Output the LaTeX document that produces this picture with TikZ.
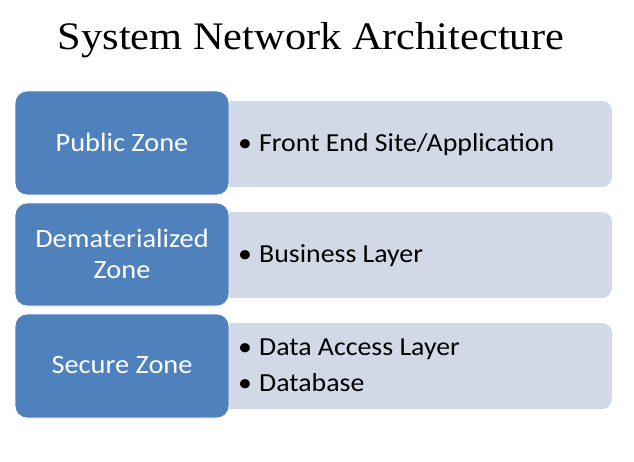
\documentclass[tikz,border=0pt]{standalone}
\usepackage{fontspec}
\setmainfont[FakeStretch=1.07]{Carlito}
\newfontfamily\titlefont[FakeStretch=1.087]{Liberation Serif}
\definecolor{zoneblue}{HTML}{4F81BD}
\definecolor{itemgray}{HTML}{D1D9E7}
\newcommand{\bul}{\makebox[21pt][l]{\textbullet}}
\begin{document}
\begin{tikzpicture}[x=1pt,y=-1pt,
  zonebox/.style={fill=zoneblue,draw=white,line width=0.8pt,rounded corners=12pt},
  itembox/.style={fill=itemgray,draw=none,rounded corners=10pt},
  zonetext/.style={text=white,font=\fontsize{26.5}{31}\selectfont,align=center,anchor=base,inner sep=0pt},
  itemtext/.style={text=black,font=\fontsize{26}{36}\selectfont,align=left,anchor=base west,inner sep=0pt}]
\useasboundingbox (0,0) rectangle (634,461);
\fill[white] (0,0) rectangle (634,461);
\node[font=\titlefont\fontsize{39}{45}\selectfont,anchor=base,inner sep=0pt] (title) at (311,49) {System Network Architecture};
% row 1
\draw[itembox] (200,101) rectangle (612,187);
\draw[zonebox] (15,91) rectangle (229,195);
\node[zonetext] (z1) at (122,151) {Public Zone};
\node[itemtext] (i1) at (238,151) {\bul Front End Site/Application};
% row 2
\draw[itembox] (200,212) rectangle (612,298);
\draw[zonebox] (15,203) rectangle (229,306);
\node[zonetext] (z2) at (122,278) {Dematerialized\\Zone};
\node[itemtext] (i2) at (238,262) {\bul Business Layer};
% row 3
\draw[itembox] (200,323) rectangle (612,409);
\draw[zonebox] (15,314) rectangle (229,418);
\node[zonetext] (z3) at (122,373) {Secure Zone};
\node[itemtext] (i3) at (238,391) {\bul Data Access Layer\\\bul Database};
\end{tikzpicture}
\end{document}
